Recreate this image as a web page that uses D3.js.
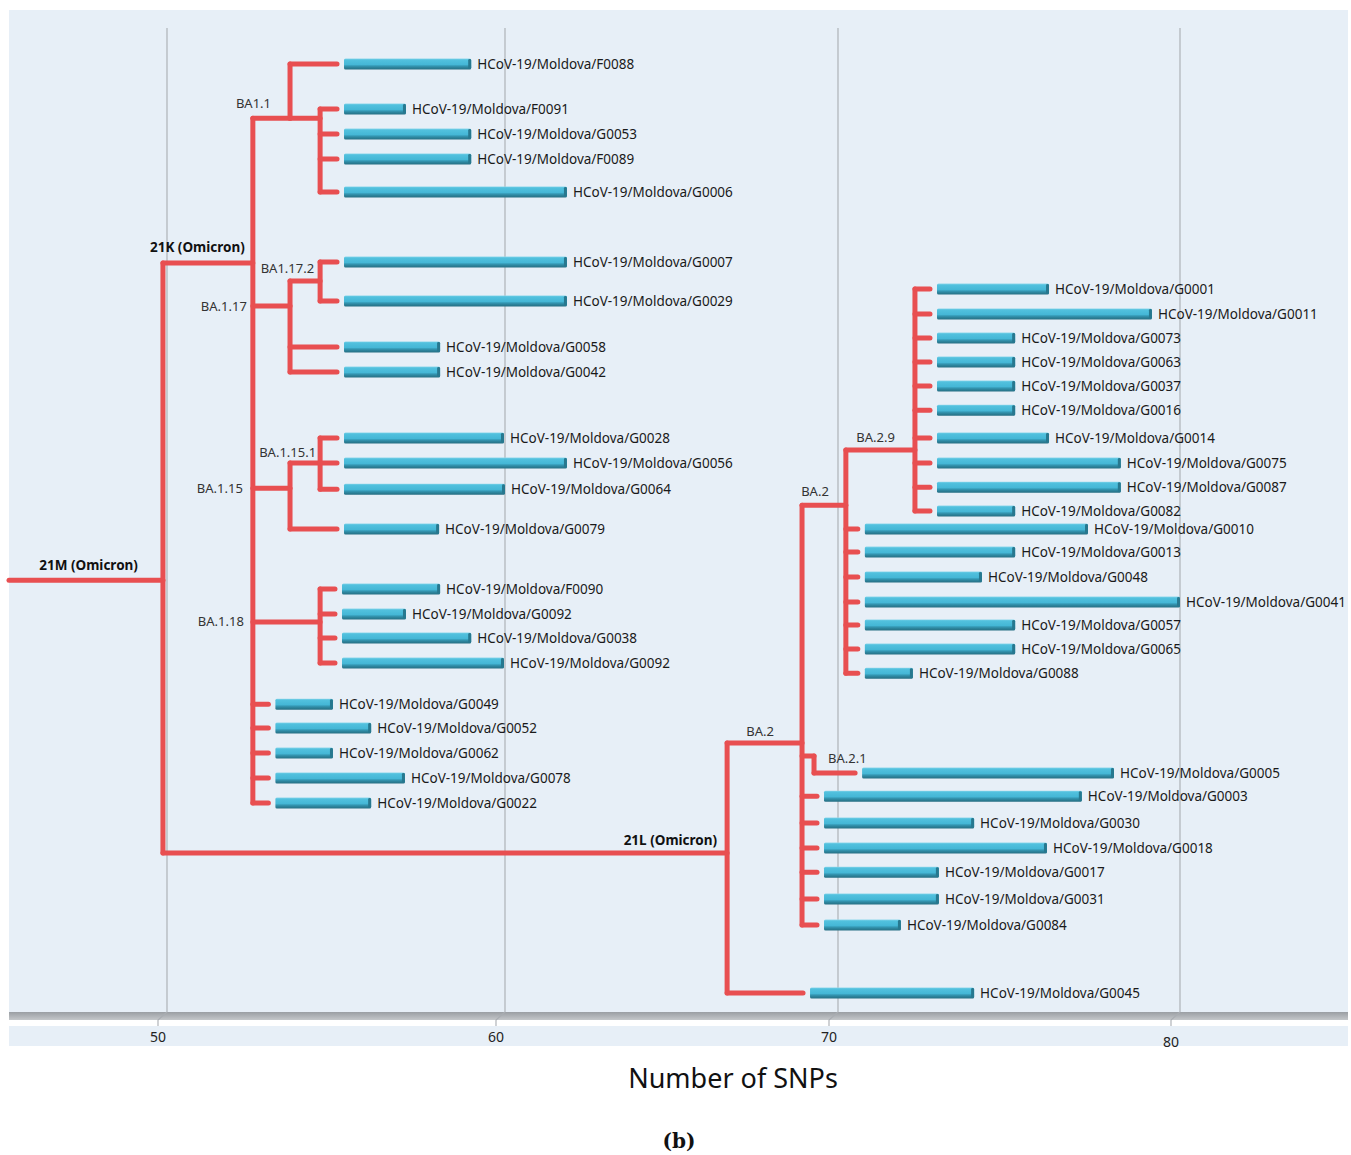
<!DOCTYPE html>
<html>
<head>
<meta charset="utf-8">
<script src="https://cdn.jsdelivr.net/npm/d3@7"></script>
<style>
  body { margin: 0; background: #fff; }
  svg { display: block; }
  text { font-family: "Noto Sans", "Open Sans", sans-serif; }
</style>
</head>
<body>
<div id="chart"></div>
<script>
// ---- data: internal nodes of the tree (x = SNP count, row = vertical slot)
const nodeIds     = ["21M", "21K", "BA1.1", "BA1.1b", "BA.1.17", "BA1.17.2", "BA.1.15", "BA.1.15.1", "BA.1.18", "21L", "BA.2a", "BA.2b", "BA.2.9", "BA.2.1"];
const nodeLabels  = ["21M (Omicron)", "21K (Omicron)", "BA1.1", "", "BA.1.17", "BA1.17.2", "BA.1.15", "BA.1.15.1", "BA.1.18", "21L (Omicron)", "BA.2", "BA.2", "BA.2.9", "BA.2.1"];
const nodeParents = [null, "21M", "21K", "BA1.1", "21K", "BA.1.17", "21K", "BA.1.15", "21K", "21M", "21L", "BA.2a", "BA.2b", "BA.2a"];
const nodeSnps    = [49.88, 52.54, 53.64, 54.53, 53.64, 54.53, 53.64, 54.53, 54.53, 66.67, 68.92, 70.23, 72.25, 69.28];
const nodeRows    = [20.98, 8.09, 2.20, 2.20, 9.84, 8.82, 17.24, 16.22, 22.68, 32.07, 27.60, 17.93, 15.69, 28.13];

// ---- data: sequences (leaves)
const leafNames = [
  "HCoV-19/Moldova/F0088", "HCoV-19/Moldova/F0091", "HCoV-19/Moldova/G0053", "HCoV-19/Moldova/F0089", "HCoV-19/Moldova/G0006",
  "HCoV-19/Moldova/G0007", "HCoV-19/Moldova/G0029", "HCoV-19/Moldova/G0058", "HCoV-19/Moldova/G0042",
  "HCoV-19/Moldova/G0028", "HCoV-19/Moldova/G0056", "HCoV-19/Moldova/G0064", "HCoV-19/Moldova/G0079",
  "HCoV-19/Moldova/F0090", "HCoV-19/Moldova/G0092", "HCoV-19/Moldova/G0038", "HCoV-19/Moldova/G0092",
  "HCoV-19/Moldova/G0049", "HCoV-19/Moldova/G0052", "HCoV-19/Moldova/G0062", "HCoV-19/Moldova/G0078", "HCoV-19/Moldova/G0022",
  "HCoV-19/Moldova/G0001", "HCoV-19/Moldova/G0011", "HCoV-19/Moldova/G0073", "HCoV-19/Moldova/G0063", "HCoV-19/Moldova/G0037",
  "HCoV-19/Moldova/G0016", "HCoV-19/Moldova/G0014", "HCoV-19/Moldova/G0075", "HCoV-19/Moldova/G0087", "HCoV-19/Moldova/G0082",
  "HCoV-19/Moldova/G0010", "HCoV-19/Moldova/G0013", "HCoV-19/Moldova/G0048", "HCoV-19/Moldova/G0041", "HCoV-19/Moldova/G0057",
  "HCoV-19/Moldova/G0065", "HCoV-19/Moldova/G0088",
  "HCoV-19/Moldova/G0005", "HCoV-19/Moldova/G0003", "HCoV-19/Moldova/G0030", "HCoV-19/Moldova/G0018", "HCoV-19/Moldova/G0017",
  "HCoV-19/Moldova/G0031", "HCoV-19/Moldova/G0084", "HCoV-19/Moldova/G0045"
];
const leafParents = [
  "BA1.1", "BA1.1b", "BA1.1b", "BA1.1b", "BA1.1b",
  "BA1.17.2", "BA1.17.2", "BA.1.17", "BA.1.17",
  "BA.1.15.1", "BA.1.15.1", "BA.1.15.1", "BA.1.15",
  "BA.1.18", "BA.1.18", "BA.1.18", "BA.1.18",
  "21K", "21K", "21K", "21K", "21K",
  "BA.2.9", "BA.2.9", "BA.2.9", "BA.2.9", "BA.2.9",
  "BA.2.9", "BA.2.9", "BA.2.9", "BA.2.9", "BA.2.9",
  "BA.2b", "BA.2b", "BA.2b", "BA.2b", "BA.2b",
  "BA.2b", "BA.2b",
  "BA.2.1", "BA.2a", "BA.2a", "BA.2a", "BA.2a",
  "BA.2a", "BA.2a", "21L"
];
const leafRows = [
  0, 1.83, 2.85, 3.86, 5.20,
  8.05, 9.63, 11.50, 12.52,
  15.20, 16.22, 17.28, 18.90,
  21.34, 22.36, 23.33, 24.35,
  26.02, 26.99, 28.01, 29.02, 30.04,
  9.15, 10.16, 11.14, 12.11, 13.09,
  14.07, 15.20, 16.22, 17.20, 18.17,
  18.90, 19.84, 20.85, 21.87, 22.80,
  23.78, 24.76,
  28.82, 29.76, 30.85, 31.87, 32.85,
  33.94, 35.00, 37.76
];
// where the red branch of each leaf ends
const leafTips = [
  55.03, 55.03, 55.03, 55.03, 55.03,
  55.03, 55.03, 55.03, 55.03,
  55.03, 55.03, 55.03, 55.03,
  54.97, 54.97, 54.97, 54.97,
  53.0, 53.0, 53.0, 53.0, 53.0,
  72.69, 72.69, 72.69, 72.69, 72.69,
  72.69, 72.69, 72.69, 72.69, 72.69,
  70.58, 70.58, 70.58, 70.58, 70.58,
  70.58, 70.58,
  70.5, 69.37, 69.37, 69.37, 69.37,
  69.37, 69.37, 68.95
];
// number of SNPs (end of the bar)
const leafSnps = [
  59.0, 57.07, 59.0, 59.0, 61.86,
  61.86, 61.86, 58.08, 58.08,
  59.97, 61.86, 60.0, 58.05,
  58.08, 57.07, 59.0, 59.97,
  54.91, 56.04, 54.91, 57.04, 56.04,
  76.17, 79.18, 75.18, 75.18, 75.18,
  75.18, 76.17, 78.27, 78.27, 75.18,
  77.31, 75.18, 74.21, 80.0, 75.18,
  75.18, 72.19,
  78.07, 77.13, 73.98, 76.11, 72.95,
  72.95, 71.84, 73.98
];

const xTicks = [50, 60, 70, 80];
const xTitle = "Number of SNPs";

// ---- layout
const width = 1351, height = 1155;
const plot = {left: 9, right: 1348, top: 10, bottom: 1012};

const svg = d3.select("#chart").append("svg")
    .attr("width", width)
    .attr("height", height);

const x = d3.scaleLinear().domain(xTicks).range([167, 505, 838, 1180]);
const y = d3.scaleLinear().domain([0, 37.76]).range([64, 993]);

const defs = svg.append("defs");
const barGrad = defs.append("linearGradient")
    .attr("id", "barGrad").attr("x1", 0).attr("y1", 0).attr("x2", 0).attr("y2", 1);
[["0%", "#8fd8ec"], ["12%", "#52c1de"], ["55%", "#45b7d6"], ["68%", "#3497b3"], ["85%", "#2b7f96"], ["100%", "#276f84"]]
    .forEach(s => barGrad.append("stop").attr("offset", s[0]).attr("stop-color", s[1]));
const bandGrad = defs.append("linearGradient")
    .attr("id", "bandGrad").attr("x1", 0).attr("y1", 0).attr("x2", 0).attr("y2", 1);
[["0%", "#9a9ea3"], ["100%", "#c4c7ca"]]
    .forEach(s => bandGrad.append("stop").attr("offset", s[0]).attr("stop-color", s[1]));

// background
svg.append("rect")
    .attr("x", plot.left).attr("y", plot.top)
    .attr("width", plot.right - plot.left).attr("height", plot.bottom - plot.top)
    .attr("fill", "#e7eff7");

// axis bands
svg.append("rect")
    .attr("x", plot.left).attr("y", plot.bottom)
    .attr("width", plot.right - plot.left).attr("height", 8)
    .attr("fill", "url(#bandGrad)");
svg.append("rect")
    .attr("x", plot.left).attr("y", 1026)
    .attr("width", plot.right - plot.left).attr("height", 20)
    .attr("fill", "#e7eff7");

// gridlines with the slanted foot
const grid = svg.append("g");
grid.selectAll("path")
    .data(xTicks)
    .join("path")
    .attr("d", d => `M${x(d)},28 V${plot.bottom} L${x(d) - 9},${plot.bottom + 8} V1026`)
    .attr("fill", "none")
    .attr("stroke", "#a9adb2")
    .attr("stroke-width", 1.1);

grid.selectAll("text")
    .data(xTicks)
    .join("text")
    .attr("x", d => x(d) - 9)
    .attr("y", d => d === 80 ? 1041 : 1036)
    .attr("text-anchor", "middle")
    .attr("dominant-baseline", "central")
    .style("font-size", "14px")
    .attr("fill", "#222")
    .text(d => d);

// ---- tree
const table = nodeIds.map((id, i) => ({
    id, parent: nodeParents[i], snp: nodeSnps[i], row: nodeRows[i], label: nodeLabels[i], leaf: false
})).concat(leafNames.map((name, i) => ({
    id: "leaf" + i, parent: leafParents[i], snp: leafSnps[i], tip: leafTips[i], row: leafRows[i], label: name, leaf: true
})));

const root = d3.stratify().id(d => d.id).parentId(d => d.parent)(table);

const segs = [];
root.descendants().forEach(n => {
    const d = n.data;
    const startX = n.parent ? x(n.parent.data.snp) : plot.left;
    const endX = d.leaf ? x(d.tip) : x(d.snp);
    segs.push(`M${startX},${y(d.row)} H${endX}`);
    if (n.children) {
        const rows = n.children.map(c => c.data.row).concat([d.row]);
        segs.push(`M${x(d.snp)},${y(d3.min(rows))} V${y(d3.max(rows))}`);
    }
});

svg.append("g")
    .selectAll("path")
    .data(segs)
    .join("path")
    .attr("d", d => d)
    .attr("fill", "none")
    .attr("stroke", "#e84f51")
    .attr("stroke-width", 5)
    .attr("stroke-linecap", "round")
    .attr("stroke-linejoin", "round");

// bars
const leaves = root.leaves().map(n => n.data);
const barH = 11;
const bars = svg.append("g");
bars.selectAll("rect.bar")
    .data(leaves)
    .join("rect")
    .attr("class", "bar")
    .attr("x", d => x(d.tip) + 7)
    .attr("y", d => y(d.row) - barH / 2)
    .attr("width", d => x(d.snp) - x(d.tip) - 7)
    .attr("height", barH)
    .attr("rx", 1.5)
    .attr("fill", "url(#barGrad)");
bars.selectAll("rect.cap")
    .data(leaves)
    .join("rect")
    .attr("class", "cap")
    .attr("x", d => x(d.snp) - 3)
    .attr("y", d => y(d.row) - barH / 2 + 0.5)
    .attr("width", 3)
    .attr("height", barH - 1)
    .attr("rx", 1.4)
    .attr("fill", "#27788f");

svg.append("g")
    .selectAll("text")
    .data(leaves)
    .join("text")
    .attr("x", d => x(d.snp) + 6)
    .attr("y", d => y(d.row))
    .attr("dominant-baseline", "central")
    .style("font-size", "13.5px")
    .attr("fill", "#1a1a1a")
    .text(d => d.label);

// clade labels: placement relative to the node (or the parent) x
const labelPlace = {
    "21M":       {from: "node",   anchor: "end",   dx: -25, dy: -15, bold: true},
    "21K":       {from: "node",   anchor: "end",   dx: -8,  dy: -16, bold: true},
    "21L":       {from: "node",   anchor: "end",   dx: -10, dy: -13, bold: true},
    "BA1.1":     {from: "node",   anchor: "end",   dx: -19, dy: -15},
    "BA.1.17":   {from: "parent", anchor: "end",   dx: -6,  dy: 0},
    "BA1.17.2":  {from: "node",   anchor: "end",   dx: -6,  dy: -13},
    "BA.1.15":   {from: "parent", anchor: "end",   dx: -10, dy: 0},
    "BA.1.15.1": {from: "node",   anchor: "end",   dx: -4,  dy: -11},
    "BA.1.18":   {from: "parent", anchor: "end",   dx: -9,  dy: -1},
    "BA.2a":     {from: "node",   anchor: "end",   dx: -28, dy: -12},
    "BA.2b":     {from: "node",   anchor: "end",   dx: -17, dy: -14},
    "BA.2.9":    {from: "node",   anchor: "end",   dx: -20, dy: -13},
    "BA.2.1":    {from: "node",   anchor: "start", dx: 14,  dy: 2}
};

const labelled = root.descendants().filter(n => !n.data.leaf && n.data.label);
svg.append("g")
    .selectAll("text")
    .data(labelled)
    .join("text")
    .attr("x", n => {
        const p = labelPlace[n.data.id];
        const base = p.from === "parent" ? x(n.parent.data.snp) : x(n.data.snp);
        return base + p.dx;
    })
    .attr("y", n => y(n.data.row) + labelPlace[n.data.id].dy)
    .attr("text-anchor", n => labelPlace[n.data.id].anchor)
    .attr("dominant-baseline", "central")
    .style("font-size", n => labelPlace[n.data.id].bold ? "13.5px" : "13px")
    .style("font-weight", n => labelPlace[n.data.id].bold ? "bold" : "normal")
    .attr("fill", n => labelPlace[n.data.id].bold ? "#111" : "#333")
    .text(n => n.data.label);

// axis title and panel letter
svg.append("text")
    .attr("x", 733)
    .attr("y", 1077)
    .attr("text-anchor", "middle")
    .attr("dominant-baseline", "central")
    .style("font-size", "27px")
    .attr("fill", "#111")
    .text(xTitle);

svg.append("text")
    .attr("x", 679)
    .attr("y", 1141)
    .attr("text-anchor", "middle")
    .attr("dominant-baseline", "central")
    .style("font-family", "'DejaVu Serif', 'Liberation Serif', serif")
    .style("font-size", "20px")
    .style("font-weight", "bold")
    .attr("fill", "#111")
    .text("(b)");
</script>
</body>
</html>
